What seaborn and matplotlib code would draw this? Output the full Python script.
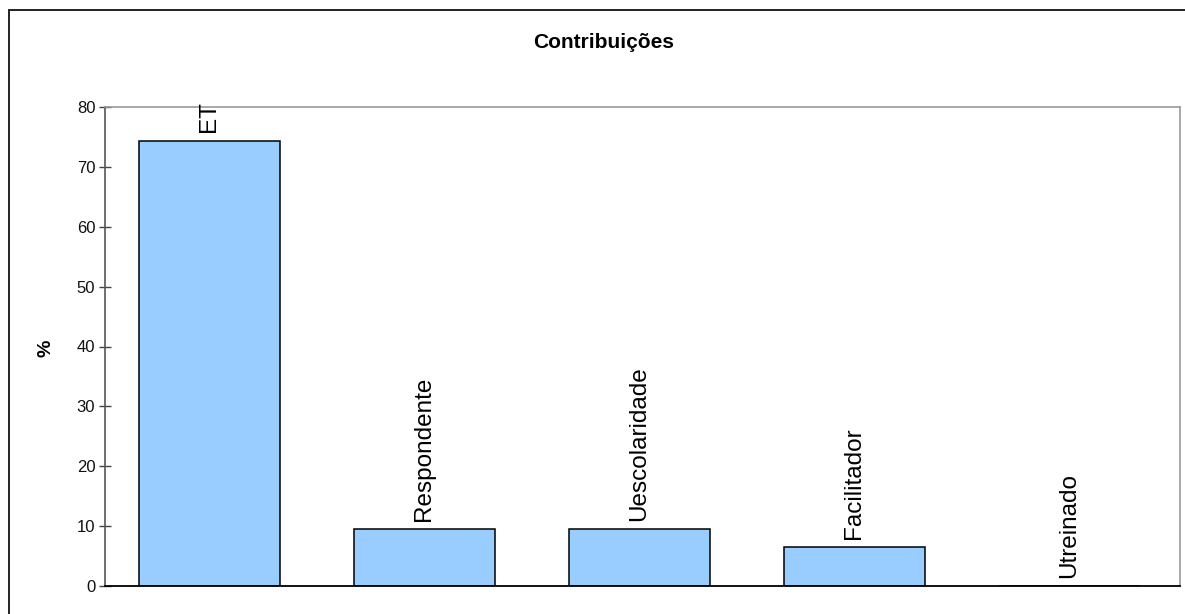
import matplotlib
matplotlib.use("Agg")
import matplotlib.pyplot as plt
import seaborn as sns
import pandas as pd
from matplotlib.patches import Rectangle

# Contribution of each factor (%)
categories = ["ET", "Respondente", "Uescolaridade", "Facilitador", "Utreinado"]
values = [74.4, 9.5, 9.5, 6.5, 0.0]
yticks = [0, 10, 20, 30, 40, 50, 60, 70, 80]

sns.set_theme(style="white")
plt.rcParams["font.family"] = ["Liberation Sans", "DejaVu Sans"]

df = pd.DataFrame({"fator": categories, "pct": values})

W, H = 1185, 614
fig = plt.figure(figsize=(W / 100, H / 100), dpi=100)
fig.patch.set_facecolor("white")

# outer frame of the chart area (open at right and bottom edges of the canvas)
fig.patches.append(Rectangle((9 / W, -0.05), 1.1, (H - 10) / H + 0.05,
                             transform=fig.transFigure, fill=False,
                             edgecolor="#222222", linewidth=1.4, zorder=0))

ax = fig.add_axes([105 / W, (H - 586) / H, (1180 - 105) / W, (586 - 107) / H])
sns.barplot(data=df, x="fator", y="pct", order=categories, color="#99CCFF",
            saturation=1, edgecolor="black", linewidth=1.1, width=0.66, ax=ax)

ax.set_ylim(0, 80)
ax.set_xlim(-0.486, len(categories) - 0.486)
ax.set_yticks(yticks)
ax.set_yticklabels([str(t) for t in yticks], fontsize=12, color="#111111")
ax.set_xticks([])
ax.set_xlabel("")
ax.set_ylabel("")
ax.tick_params(axis="y", direction="inout", length=8, width=1, color="#444444",
               left=True, pad=3)

for side in ("top", "right"):
    ax.spines[side].set_color("#999999")
    ax.spines[side].set_linewidth(1.2)
ax.spines["left"].set_color("#555555")
ax.spines["left"].set_linewidth(1.2)
ax.spines["bottom"].set_color("black")
ax.spines["bottom"].set_linewidth(1.3)

# factor name above each bar
for i, (name, v) in enumerate(zip(categories, values)):
    ax.annotate(name, xy=(i, v), xytext=(0, 6), textcoords="offset points",
                rotation=90, ha="center", va="bottom", fontsize=17.5,
                color="black", annotation_clip=False)

fig.text(604 / W, (H - 42) / H, "Contribuições", ha="center", va="center",
         fontsize=15, fontweight="bold", color="black")
fig.text(46 / W, (H - 348) / H, "%", ha="center", va="center", rotation=90,
         fontsize=14, fontweight="bold", color="black")

fig.savefig("out.png", dpi=100, facecolor="white")
